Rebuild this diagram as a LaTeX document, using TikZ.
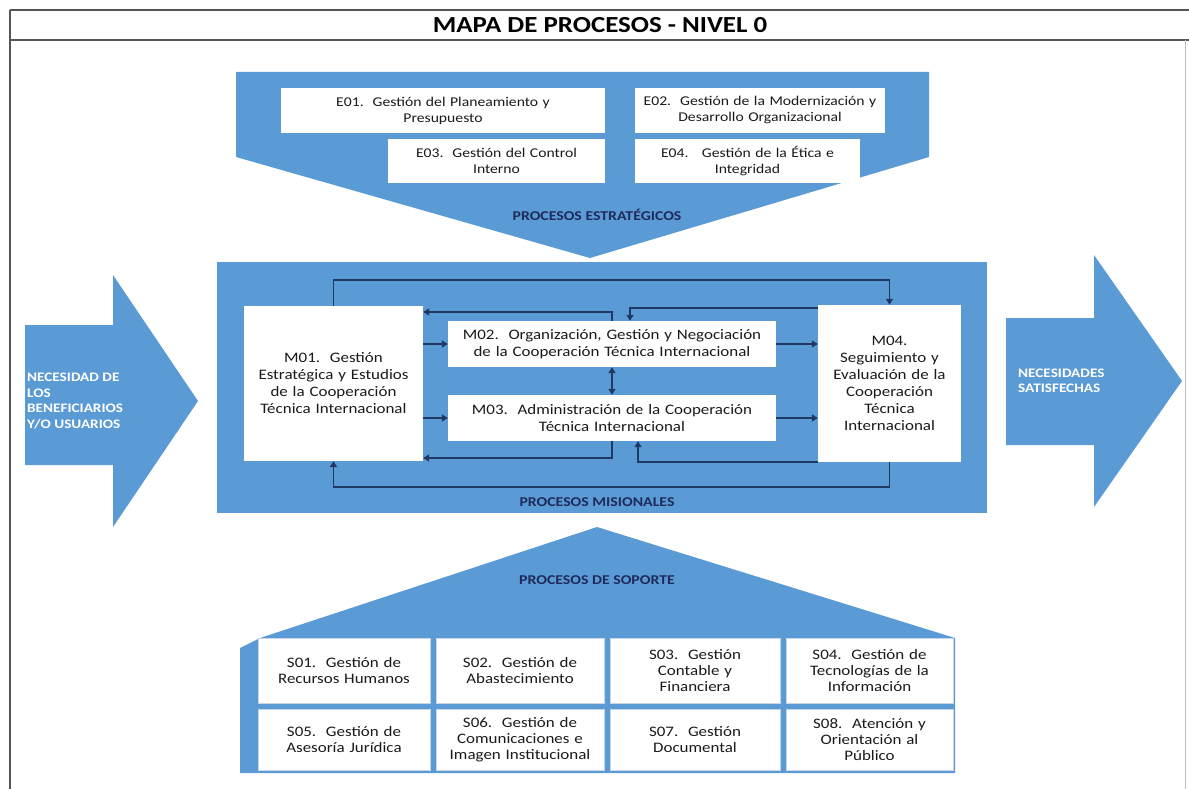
\documentclass[tikz,border=0pt]{standalone}
\usepackage{fontspec}
\setmainfont{Carlito}[FakeStretch=1.17]
\usetikzlibrary{arrows.meta,calc}
\definecolor{pblue}{HTML}{5B9BD5}
\definecolor{navy}{HTML}{1F2A5C}
\definecolor{lnavy}{HTML}{1F3864}
\definecolor{sedge}{HTML}{C9D6EA}
\definecolor{frame}{HTML}{555555}
\definecolor{txt}{HTML}{1A1A1A}
\begin{document}
\begin{tikzpicture}[x=1pt,y=-1pt,
  ebox/.style={fill=white, inner sep=0pt, align=center, text=txt, font=\fontsize{13.4}{16}\selectfont},
  mbox/.style={fill=white, inner sep=0pt, align=center, text=txt, font=\fontsize{14.5}{17}\selectfont},
  sbox/.style={fill=white, draw=sedge, line width=1pt, inner sep=0pt, align=center, text=txt, font=\fontsize{14.5}{16}\selectfont},
  conn/.style={draw=lnavy, line width=1.6pt, -{Triangle[length=6pt,width=7pt]}},
  biconn/.style={draw=lnavy, line width=1.6pt, {Triangle[length=6pt,width=7pt]}-{Triangle[length=6pt,width=7pt]}},
  lbl/.style={font=\bfseries\fontsize{13.5}{16}\selectfont, text=navy, inner sep=0pt},
  wlbl/.style={font=\bfseries\fontsize{13}{15.5}\selectfont, text=white, align=left, inner sep=0pt, anchor=west}
]
\useasboundingbox (0,0) rectangle (1189,789);
\fill[white] (0,0) rectangle (1189,789);
% frame
\draw[frame, line width=1.6pt] (10,10) -- (1189,10);
\draw[frame, line width=1.6pt] (10,40) -- (1189,40);
\draw[frame, line width=1.6pt] (10,10) -- (10,789);
\draw[black!25, line width=0.8pt] (1185,40) -- (1185,789);
\node[font=\bfseries\fontsize{23}{26}\selectfont, inner sep=0pt] (title) at (600,25) {MAPA DE PROCESOS - NIVEL 0};

% strategic
\fill[pblue] (236,72) -- (929,72) -- (929,157) -- (590,258) -- (236,157) -- cycle;
\node[ebox, minimum width=324, minimum height=45, text width=318] (e1) at (443,110.5) {E01.\ \ Gestión del Planeamiento y\\Presupuesto};
\node[ebox, minimum width=250, minimum height=45, text width=246] (e2) at (760,110.5) {E02.\ \ Gestión de la Modernización y\\Desarrollo Organizacional};
\node[ebox, minimum width=217, minimum height=44, text width=212] (e3) at (496.5,161) {E03.\ \ Gestión del Control\\Interno};
\node[ebox, minimum width=225, minimum height=44, text width=220] (e4) at (747.5,161) {E04.\ \ \ Gestión de la Ética e\\Integridad};
\node[lbl] (ls) at (597,215) {PROCESOS ESTRATÉGICOS};

% input / output arrows
\fill[pblue] (25,325) -- (113,325) -- (113,275) -- (198,401) -- (113,527) -- (113,465) -- (25,465) -- cycle;
\node[wlbl] (in) at (27,401) {NECESIDAD DE\\LOS\\BENEFICIARIOS\\Y/O USUARIOS};
\fill[pblue] (1006,318) -- (1094,318) -- (1094,255) -- (1182,381) -- (1094,507) -- (1094,445) -- (1006,445) -- cycle;
\node[wlbl] (out) at (1018,381) {NECESIDADES\\SATISFECHAS};

% misional
\fill[pblue] (217,262) rectangle (987,513);
\node[mbox, minimum width=179, minimum height=155, text width=174] (m1) at (333.5,383.5) {M01.\ \ Gestión\\Estratégica y Estudios\\de la Cooperación\\Técnica Internacional};
\node[mbox, minimum width=328, minimum height=46, text width=324] (m2) at (612,344) {M02.\ \ Organización, Gestión y Negociación\\de la Cooperación Técnica Internacional};
\node[mbox, minimum width=328, minimum height=46, text width=324] (m3) at (612,418) {M03.\ \ Administración de la Cooperación\\Técnica Internacional};
\node[mbox, minimum width=143, minimum height=157, text width=140] (m4) at (889.5,383.5) {M04.\\Seguimiento y\\Evaluación de la\\Cooperación\\Técnica\\Internacional};
\node[lbl] (lm) at (597,502) {PROCESOS MISIONALES};

\coordinate (ya) at (0,312);
\coordinate (yb) at (0,308);
\coordinate (yc) at (0,458);
\coordinate (yd) at (0,462);
\draw[conn] (m1.north) -- ++(0,-26) -| (m4.north);
\draw[conn] (m2.north) |- (m1.east |- ya);
\draw[conn] (m4.west |- yb) -| ($(m2.north)+(18,0)$);
\draw[conn] (m1.east |- m2.west) -- (m2.west);
\draw[conn] (m1.east |- m3.west) -- (m3.west);
\draw[biconn] (m2.south) -- (m3.north);
\draw[conn] (m2.east) -- (m4.west |- m2.east);
\draw[conn] (m3.east) -- (m4.west |- m3.east);
\draw[conn] (m3.south) |- (m1.east |- yc);
\draw[conn] (m4.west |- yd) -| ($(m3.south)+(26,0)$);
\draw[conn] (m4.south) -- ++(0,25) -| (m1.south);

% soporte
\fill[pblue] (240,773) -- (240,648) -- (260,638) -- (597,527) -- (955,638) -- (955,773) -- cycle;
\node[lbl] (lp) at (597,580) {PROCESOS DE SOPORTE};
\node[sbox, minimum width=172, minimum height=65, text width=168] (s1) at (344,670.5) {S01.\ \ Gestión de\\Recursos Humanos};
\node[sbox, minimum width=168, minimum height=65, text width=164] (s2) at (520,670.5) {S02.\ \ Gestión de\\Abastecimiento};
\node[sbox, minimum width=170, minimum height=65, text width=166] (s3) at (695,670.5) {S03.\ \ Gestión\\Contable y\\Financiera};
\node[sbox, minimum width=167, minimum height=65, text width=163] (s4) at (869.5,670.5) {S04.\ \ Gestión de\\Tecnologías de la\\Información};
\node[sbox, minimum width=172, minimum height=61, text width=168] (s5) at (344,739.5) {S05.\ \ Gestión de\\Asesoría Jurídica};
\node[sbox, minimum width=168, minimum height=61, text width=164] (s6) at (520,739.5) {S06.\ \ Gestión de\\Comunicaciones e\\Imagen Institucional};
\node[sbox, minimum width=170, minimum height=61, text width=166] (s7) at (695,739.5) {S07.\ \ Gestión\\Documental};
\node[sbox, minimum width=167, minimum height=61, text width=163] (s8) at (869.5,739.5) {S08.\ \ Atención y\\Orientación al\\Público};
\end{tikzpicture}
\end{document}
